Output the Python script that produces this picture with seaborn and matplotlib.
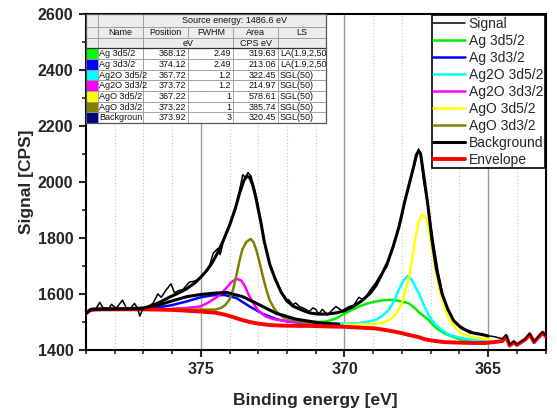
import matplotlib
matplotlib.use("Agg")
import matplotlib.pyplot as plt
import seaborn as sns
from matplotlib.patches import Rectangle
from matplotlib.ticker import MultipleLocator

sns.set_style("ticks")
plt.rcParams['font.family'] = ['Liberation Sans', 'DejaVu Sans']

# ---------------- data (binding energy [eV], signal [CPS]) ----------------
signal_be = [379.00, 378.85, 378.65, 378.52, 378.40, 378.20, 378.11, 377.95, 377.73, 377.60,
             377.45, 377.31, 377.20, 377.13, 377.00, 376.85, 376.67, 376.50, 376.38, 376.21,
             376.04, 375.92, 375.78, 375.63, 375.40, 375.25, 375.11, 375.00, 374.83, 374.70,
             374.57, 374.40, 374.33, 374.17, 373.94, 373.82, 373.70, 373.54, 373.45, 373.36,
             373.25, 373.07, 372.90, 372.73, 372.55, 372.38, 372.20, 372.12, 372.03, 371.95,
             371.80, 371.70, 371.57, 371.40, 371.23, 371.10, 371.00, 370.90, 370.77, 370.59,
             370.45, 370.30, 370.08, 369.84, 369.67, 369.50, 369.33, 369.10, 368.92, 368.75,
             368.52, 368.35, 368.17, 368.00, 367.88, 367.71, 367.54, 367.42, 367.35, 367.25,
             367.07, 366.90, 366.73, 366.56, 366.40, 366.17, 365.94, 365.80, 365.60, 365.45,
             365.10, 364.80, 364.50, 364.37, 364.25, 364.10, 364.00, 363.85, 363.70, 363.55,
             363.40, 363.25, 363.10, 363.00]
signal_cps = [1530, 1546, 1548, 1570, 1549, 1548, 1563, 1548, 1578, 1550,
              1549, 1566, 1548, 1521, 1550, 1555, 1566, 1600, 1588, 1614,
              1636, 1604, 1612, 1615, 1642, 1645, 1650, 1662, 1680, 1700,
              1745, 1763, 1740, 1805, 1864, 1894, 1948, 2025, 2015, 2033,
              2019, 1948, 1852, 1757, 1686, 1650, 1608, 1590, 1573, 1580,
              1561, 1568, 1555, 1548, 1537, 1550, 1545, 1528, 1545, 1525,
              1540, 1555, 1540, 1555, 1560, 1588, 1578, 1614, 1638, 1668,
              1697, 1757, 1817, 1876, 1936, 2007, 2067, 2117, 2100, 2007,
              1900, 1781, 1674, 1590, 1543, 1501, 1477, 1470, 1459, 1462,
              1452, 1448, 1440, 1455, 1418, 1432, 1420, 1430, 1440, 1460,
              1430, 1448, 1465, 1452]

fit_be = [379.0, 378.8, 378.0, 377.0, 376.7, 376.4, 376.1, 375.8, 375.5, 375.2, 375.0, 374.8,
          374.6, 374.4, 374.2, 374.0, 373.8, 373.65, 373.5, 373.4, 373.3, 373.2, 373.1, 373.0,
          372.9, 372.8, 372.6, 372.4, 372.2, 372.0, 371.8, 371.5, 371.2, 370.9, 370.6, 370.3,
          370.0, 369.7, 369.4, 369.1, 368.9, 368.7, 368.5, 368.3, 368.1, 367.9, 367.75, 367.6,
          367.5, 367.42, 367.35, 367.25, 367.1, 366.95, 366.8, 366.6, 366.4, 366.2, 366.0,
          365.8, 365.5, 365.2, 365.0]
fit_cps = [1532, 1545, 1546, 1548, 1558, 1572, 1588, 1602, 1618, 1640, 1660, 1683,
           1712, 1750, 1795, 1845, 1905, 1960, 2005, 2020, 2015, 1990, 1950, 1900,
           1850, 1790, 1705, 1650, 1605, 1575, 1557, 1543, 1532, 1528, 1528, 1532,
           1540, 1555, 1575, 1603, 1630, 1670, 1712, 1770, 1840, 1930, 1990, 2050,
           2095, 2110, 2100, 2030, 1920, 1790, 1690, 1600, 1545, 1505, 1485,
           1472, 1460, 1455, 1450]

bump_be = [379.0, 378.8, 377.5, 377.0, 376.5, 376.0, 375.5, 375.0, 374.5, 374.1, 373.54,
           372.96, 372.38, 371.69, 370.88, 370.2]
bump_cps = [1532, 1545, 1547, 1550, 1560, 1575, 1590, 1598, 1603, 1605, 1590,
            1561, 1531, 1510, 1497, 1492]

ag32_be = [378.8, 377.5, 377.0, 376.5, 376.0, 375.5, 375.0, 374.6, 374.17, 373.76, 373.3,
           372.84, 372.38, 372.0, 371.6, 371.2, 370.8, 370.4]
ag32_cps = [1545, 1546, 1548, 1552, 1560, 1573, 1588, 1595, 1596, 1585, 1555,
            1529, 1510, 1502, 1498, 1495, 1493, 1490]

ag2o32_be = [376.0, 375.5, 375.03, 374.8, 374.57, 374.4, 374.23, 374.08, 373.94, 373.8,
             373.73, 373.6, 373.48, 373.35, 373.25, 373.12, 373.02, 372.85, 372.73, 372.5,
             372.27, 371.8, 371.2, 370.5]
ag2o32_cps = [1547, 1550, 1555, 1566, 1580, 1592, 1608, 1625, 1642, 1651,
              1653, 1648, 1630, 1600, 1580, 1558, 1543, 1528, 1519, 1511,
              1507, 1500, 1496, 1492]

ago32_be = [376.0, 375.0, 374.5, 374.3, 374.15, 374.0, 373.88, 373.75, 373.65, 373.55,
            373.42, 373.27, 373.17, 373.07, 372.95, 372.84, 372.72, 372.61, 372.45, 372.32,
            372.15, 372.03, 371.57, 371.0, 370.5]
ago32_cps = [1546, 1544, 1544, 1550, 1560, 1580, 1615, 1672, 1721, 1760,
             1785, 1796, 1785, 1757, 1710, 1662, 1615, 1579, 1548, 1531,
             1518, 1513, 1501, 1496, 1492]

ag52_be = [371.5, 371.23, 370.65, 370.3, 370.08, 369.8, 369.5, 369.2, 368.92, 368.6, 368.35,
           368.1, 367.77, 367.5, 367.42, 367.31, 367.08, 366.96, 366.8, 366.5, 366.04, 365.7,
           365.35, 364.9]
ag52_cps = [1497, 1499, 1501, 1512, 1525, 1540, 1555, 1566, 1573, 1578, 1579,
            1575, 1567, 1545, 1535, 1527, 1508, 1495, 1478, 1458, 1440, 1432,
            1428, 1426]

ag2o52_be = [370.5, 369.5, 368.92, 368.7, 368.46, 368.3, 368.11, 367.95, 367.8, 367.65,
             367.54, 367.42, 367.3, 367.19, 367.08, 366.96, 366.8, 366.61, 366.4, 366.15,
             365.8, 365.4, 364.9]
ag2o52_cps = [1494, 1495, 1507, 1520, 1543, 1570, 1614, 1648, 1664, 1650,
              1626, 1605, 1575, 1550, 1528, 1507, 1488, 1471, 1457, 1448,
              1440, 1434, 1430]

ago52_be = [370.0, 369.0, 368.6, 368.35, 368.17, 368.0, 367.88, 367.77, 367.65, 367.54,
            367.42, 367.31, 367.22, 367.13, 367.05, 366.96, 366.88, 366.79, 366.68, 366.56,
            366.4, 366.27, 366.1, 365.94, 365.7, 365.35, 364.9]
ago52_cps = [1490, 1492, 1500, 1513, 1535, 1567, 1610, 1650, 1720, 1793,
             1855, 1882, 1878, 1864, 1820, 1769, 1715, 1662, 1610, 1567,
             1520, 1495, 1475, 1459, 1450, 1442, 1438]

base_be = [379.0, 378.85, 378.5, 377.0, 376.0, 375.0, 374.5, 374.2, 373.9, 373.6, 373.3,
           373.0, 372.6, 372.2, 371.6, 371.2, 370.6, 370.08, 369.5, 368.92, 368.5, 368.23,
           368.0, 367.77, 367.42, 367.19, 366.84, 366.5, 366.27, 365.5, 365.1, 364.8, 364.5,
           364.37, 364.25, 364.1, 364.0, 363.85, 363.7, 363.55, 363.4, 363.25, 363.1, 363.0]
base_cps = [1530, 1543, 1545, 1545, 1543, 1537, 1533, 1527, 1518, 1508, 1500,
            1494, 1489, 1487, 1486, 1486, 1484, 1483, 1480, 1477, 1470, 1465,
            1460, 1454, 1446, 1438, 1432, 1428, 1427, 1425, 1425, 1428, 1432,
            1450, 1416, 1428, 1418, 1428, 1438, 1456, 1428, 1445, 1462, 1450]

legend_labels = ["Signal", "Ag 3d5/2", "Ag 3d3/2", "Ag2O 3d5/2", "Ag2O 3d3/2",
                 "AgO 3d5/2", "AgO 3d3/2", "Background", "Envelope"]

tbl_names = ["Ag 3d5/2", "Ag 3d3/2", "Ag2O 3d5/2", "Ag2O 3d3/2", "AgO 3d5/2",
             "AgO 3d3/2", "Backgroun"]
tbl_pos = ["368.12", "374.12", "367.72", "373.72", "367.22", "373.22", "373.92"]
tbl_fwhm = ["2.49", "2.49", "1.2", "1.2", "1", "1", "3"]
tbl_area = ["319.63", "213.06", "322.45", "214.97", "578.61", "385.74", "320.45"]
tbl_ls = ["LA(1.9,2,50", "LA(1.9,2,50", "SGL(50)", "SGL(50)", "SGL(50)", "SGL(50)", "SGL(50)"]
tbl_colors = ["#00ff00", "#0000ff", "#00ffff", "#ff00ff", "#ffff00", "#808000", "#000080"]

# ---------------- figure ----------------
W, H = 557, 413
fig = plt.figure(figsize=(W / 100, H / 100), dpi=100)
ax = fig.add_axes([86 / W, 63 / H, 459.5 / W, 336.5 / H])


def line(x, y, color, lw, label=None, z=2):
    sns.lineplot(x=x, y=y, sort=False, color=color, lw=lw, ax=ax, legend=False,
                 estimator=None, zorder=z)
    ln = ax.lines[-1]
    if label:
        ln.set_label(label)
    return ln


h = {}
h["Ag 3d5/2"] = line(ag52_be, ag52_cps, "#00ee00", 1.8)
h["Ag 3d3/2"] = line(ag32_be, ag32_cps, "#0000ff", 1.8)
h["Ag2O 3d5/2"] = line(ag2o52_be, ag2o52_cps, "#00ffff", 1.8)
h["Ag2O 3d3/2"] = line(ag2o32_be, ag2o32_cps, "#ff00ff", 1.8)
h["AgO 3d5/2"] = line(ago52_be, ago52_cps, "#ffff00", 1.8)
h["AgO 3d3/2"] = line(ago32_be, ago32_cps, "#808000", 1.8)
line(bump_be, bump_cps, "black", 2.2)
h["Envelope"] = line(base_be, base_cps, "#ff0000", 2.8, z=3)
h["Background"] = line(fit_be, fit_cps, "black", 2.2, z=4)
h["Signal"] = line(signal_be, signal_cps, "black", 1.1, z=5)

ax.set_xlim(379, 363)
ax.set_ylim(1400, 2600)
ax.xaxis.set_major_locator(MultipleLocator(5))
ax.xaxis.set_minor_locator(MultipleLocator(1))
ax.yaxis.set_major_locator(MultipleLocator(200))
ax.yaxis.set_minor_locator(MultipleLocator(100))
ax.xaxis.grid(True, which='major', color='#9a9a9a', lw=1.0)
ax.xaxis.grid(True, which='minor', color='#c8c8c8', lw=0.8, ls=(0, (1, 2)))
ax.yaxis.grid(False)
ax.set_axisbelow(True)
for s in ax.spines.values():
    s.set_linewidth(1.5)
    s.set_color("black")
ax.tick_params(which='major', direction='out', length=5, width=1.5, pad=4, labelsize=11.5,
               top=False, right=False)
ax.tick_params(which='minor', direction='out', length=3, width=1.2, top=False, right=False)
for lab in ax.get_xticklabels() + ax.get_yticklabels():
    lab.set_fontweight('bold')
ax.set_xlabel("Binding energy [eV]", fontsize=12.5, fontweight='bold', labelpad=11)
ax.set_ylabel("Signal [CPS]", fontsize=12.5, fontweight='bold', labelpad=3)

leg = ax.legend([h[k] for k in legend_labels], legend_labels, loc='upper right',
                bbox_to_anchor=(0.998, 0.995), borderaxespad=0, fontsize=10,
                frameon=True, fancybox=False, framealpha=1, edgecolor='black',
                borderpad=0.1, handlelength=2.3, handletextpad=0.25, labelspacing=0.22)
leg.get_frame().set_linewidth(1.2)
leg.set_zorder(10)

# ---------------- parameter table (drawn in figure pixel coordinates) ----------------
def fx(x):
    return x / W


def fy(y):
    return 1 - y / H


def cell(x0, y0, x1, y1, fc, ec="#9a9a9a", lw=0.6):
    fig.add_artist(Rectangle((fx(x0), fy(y1)), (x1 - x0) / W, (y1 - y0) / H,
                             transform=fig.transFigure, facecolor=fc, edgecolor=ec, lw=lw,
                             zorder=20))


def txt(x, y, s, ha):
    fig.text(fx(x), fy(y), s, ha=ha, va='center', fontsize=6.5, zorder=21, color='#111111')


cols = [86, 97.7, 142.7, 188.3, 233.3, 278.3, 325.7]
hdr_rows = [14, 27.3, 38.3, 48.3]
row_h = 10.7
gray = "#ececec"

# header row 1
cell(cols[0], hdr_rows[0], cols[1], hdr_rows[1], gray)
cell(cols[1], hdr_rows[0], cols[2], hdr_rows[1], gray)
cell(cols[2], hdr_rows[0], cols[6], hdr_rows[1], gray)
txt((cols[2] + cols[6]) / 2, (hdr_rows[0] + hdr_rows[1]) / 2, "Source energy: 1486.6 eV", 'center')
# header row 2
hdr2 = ["Name", "Position", "FWHM", "Area", "LS"]
cell(cols[0], hdr_rows[1], cols[1], hdr_rows[2], gray)
for i, t in enumerate(hdr2):
    cell(cols[i + 1], hdr_rows[1], cols[i + 2], hdr_rows[2], gray)
    txt((cols[i + 1] + cols[i + 2]) / 2, (hdr_rows[1] + hdr_rows[2]) / 2, t, 'center')
# header row 3 (units)
cell(cols[0], hdr_rows[2], cols[1], hdr_rows[3], gray)
cell(cols[1], hdr_rows[2], cols[2], hdr_rows[3], gray)
cell(cols[2], hdr_rows[2], cols[4], hdr_rows[3], gray)
cell(cols[4], hdr_rows[2], cols[5], hdr_rows[3], gray)
cell(cols[5], hdr_rows[2], cols[6], hdr_rows[3], gray)
ym = (hdr_rows[2] + hdr_rows[3]) / 2
txt((cols[2] + cols[4]) / 2, ym, "eV", 'center')
txt((cols[4] + cols[5]) / 2, ym, "CPS eV", 'center')
# data rows
for r in range(len(tbl_names)):
    y0 = hdr_rows[3] + r * row_h
    y1 = y0 + row_h
    yc = (y0 + y1) / 2
    cell(cols[0], y0, cols[1], y1, tbl_colors[r])
    for c in range(1, 6):
        cell(cols[c], y0, cols[c + 1], y1, "white")
    txt(cols[1] + 1.5, yc, tbl_names[r], 'left')
    txt(cols[3] - 2, yc, tbl_pos[r], 'right')
    txt(cols[4] - 2, yc, tbl_fwhm[r], 'right')
    txt(cols[5] - 2, yc, tbl_area[r], 'right')
    txt(cols[5] + 1.5, yc, tbl_ls[r], 'left')
# header separator and outline
fig.add_artist(plt.Line2D([fx(cols[0]), fx(cols[6])], [fy(hdr_rows[3])] * 2,
                          transform=fig.transFigure, color='#333333', lw=0.9, zorder=22))
fig.add_artist(Rectangle((fx(cols[0]), fy(hdr_rows[3] + 7 * row_h)), (cols[6] - cols[0]) / W,
                         (hdr_rows[3] + 7 * row_h - hdr_rows[0]) / H,
                         transform=fig.transFigure, facecolor='none', edgecolor='#555555',
                         lw=0.9, zorder=22))

fig.savefig("out.png", dpi=100, facecolor="white")
